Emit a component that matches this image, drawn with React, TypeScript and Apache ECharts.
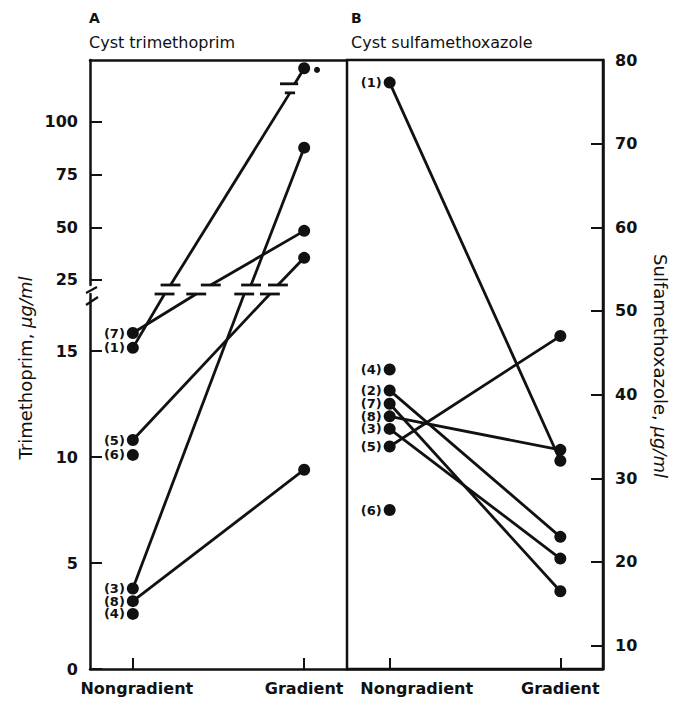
import React, { useEffect, useRef } from 'react';
import * as echarts from 'echarts';

// ---------- data ----------
const categories = ['Nongradient', 'Gradient'];

// Panel A: cyst trimethoprim (µg/ml)
const tmpPatients = ['(7)', '(1)', '(5)', '(6)', '(3)', '(8)', '(4)'];
const tmpNongradient = [15.85, 15.15, 10.8, 10.1, 3.8, 3.2, 2.6];
const tmpGradient: (number | null)[] = [48.3, 125.5, 35.5, null, 87.8, 9.4, null];
// x (category units) where each line meets the axis break
const tmpBreakLowerX: (number | null)[] = [0.37, 0.185, 0.8, null, 0.65, null, null];
const tmpBreakUpperX: (number | null)[] = [0.455, 0.22, 0.847, null, 0.69, null, null];
// patient (1) is off scale at Gradient: its line is broken again near the top
const offScaleIndex = 1;
const offScaleBreakX = [0.917, 0.945];
const offScaleBreakY = [113.8, 118.1];
const offScaleMarker = [1.075, 124.7];

// Panel B: cyst sulfamethoxazole (µg/ml)
const smxPatients = ['(1)', '(4)', '(2)', '(7)', '(8)', '(3)', '(5)', '(6)'];
const smxNongradient = [77.3, 43.0, 40.5, 38.9, 37.4, 35.9, 33.8, 26.2];
const smxGradient: (number | null)[] = [32.1, null, 23.0, 16.5, 33.4, 20.4, 47.0, null];

// tick labels
const tmpLowerTicks = [0, 5, 10, 15];
const tmpUpperTicks = [25, 50, 75, 100];
const smxTicks = [10, 20, 30, 40, 50, 60, 70, 80];

// axis ranges
const LOWER_MIN = 0, LOWER_MAX = 17.69;
const UPPER_MIN = 22.6, UPPER_MAX = 129.4;
const SMX_MIN = 7.2, SMX_MAX = 80;

// ---------- styling ----------
const INK = '#111111';
const FONT = 'DejaVu Sans';
const LW = 2.8;
const MARK_HALF = 0.058;

function lineS(idx: number, data: number[][]) {
  return {
    type: 'line', xAxisIndex: idx, yAxisIndex: idx, data,
    symbol: 'none', clip: false, silent: true, z: 2,
    lineStyle: { color: INK, width: LW, cap: 'butt', opacity: 1 },
  };
}
function markS(idx: number, x: number, y: number, half = MARK_HALF) {
  return lineS(idx, [[x - half, y], [x + half, y]]);
}
function scatterS(idx: number, data: any[], withLabel: boolean, size = 12) {
  return {
    type: 'scatter', xAxisIndex: idx, yAxisIndex: idx, data,
    symbol: 'circle', symbolSize: size, clip: false, silent: true, z: 3,
    itemStyle: { color: INK, opacity: 1 },
    label: withLabel ? {
      show: true, position: 'left', distance: 2, formatter: '{b}',
      color: INK, opacity: 1, fontFamily: FONT, fontWeight: 'bold', fontSize: 13,
    } : { show: false },
  };
}

function xAxisBase(gridIndex: number, shiftFirst: number) {
  return {
    gridIndex, type: 'value', min: -0.25, max: 1.25, position: 'bottom',
    splitLine: { show: false },
    axisLine: { show: true, onZero: false, lineStyle: { color: INK, width: 2.5 } },
    axisTick: { show: true, inside: true, length: 11, customValues: [0, 1], lineStyle: { color: INK, width: 2 } },
    axisLabel: {
      show: true, customValues: [0, 1], margin: 11,
      formatter: (v: number) => (v === 0 ? '{a|' + categories[0] + '}' : '{b|' + categories[1] + '}'),
      color: INK, fontFamily: FONT, fontWeight: 'bold', fontSize: 16,
      rich: {
        a: { color: INK, fontFamily: FONT, fontWeight: 'bold', fontSize: 16, padding: [0, 0, 0, shiftFirst] },
        b: { color: INK, fontFamily: FONT, fontWeight: 'bold', fontSize: 16 },
      },
    },
  };
}
function yAxisBase(gridIndex: number, min: number, max: number, ticks: number[], position = 'left') {
  return {
    gridIndex, type: 'value', min, max, position,
    splitLine: { show: false },
    axisLine: { show: true, onZero: false, lineStyle: { color: INK, width: 2.5 } },
    axisTick: { show: true, inside: true, length: 12, customValues: ticks, lineStyle: { color: INK, width: 2 } },
    axisLabel: {
      show: true, customValues: ticks, margin: 12,
      color: INK, fontFamily: FONT, fontWeight: 'bold', fontSize: 16,
    },
  };
}

function buildOption() {
  const series: any[] = [];

  // Panel A lines
  tmpPatients.forEach((_, i) => {
    const ng = tmpNongradient[i];
    const g = tmpGradient[i];
    if (g == null) return;
    if (g <= LOWER_MAX) {
      series.push(lineS(0, [[0, ng], [1, g]]));
      return;
    }
    const xl = tmpBreakLowerX[i] as number;
    const xu = tmpBreakUpperX[i] as number;
    series.push(lineS(0, [[0, ng], [xl, LOWER_MAX]]));
    series.push(markS(0, xl, LOWER_MAX));
    series.push(markS(1, xu, UPPER_MIN));
    if (i === offScaleIndex) {
      series.push(lineS(1, [[xu, UPPER_MIN], [offScaleBreakX[0], offScaleBreakY[0]]]));
      series.push(markS(1, offScaleBreakX[0], offScaleBreakY[0], 0.03));
      series.push(markS(1, offScaleBreakX[0] - 0.005, offScaleBreakY[1], 0.053));
      series.push(lineS(1, [[offScaleBreakX[1], offScaleBreakY[1]], [1, g]]));
    } else {
      series.push(lineS(1, [[xu, UPPER_MIN], [1, g]]));
    }
  });
  // Panel A points
  series.push(scatterS(0, tmpPatients.map((p, i) => ({ name: p, value: [0, tmpNongradient[i]] })), true));
  series.push(scatterS(0, tmpGradient.filter((g) => g != null && g <= LOWER_MAX).map((g) => [1, g]), false));
  series.push(scatterS(1, tmpGradient.filter((g) => g != null && g > LOWER_MAX).map((g) => [1, g]), false));
  series.push(scatterS(1, [offScaleMarker], false, 6));

  // Panel B
  smxPatients.forEach((_, i) => {
    const g = smxGradient[i];
    if (g == null) return;
    series.push(lineS(2, [[0, smxNongradient[i]], [1, g]]));
  });
  series.push(scatterS(2, smxPatients.map((p, i) => ({ name: p, value: [0, smxNongradient[i]] })), true));
  series.push(scatterS(2, smxGradient.filter((g) => g != null).map((g) => [1, g]), false));

  const upperX: any = {
    gridIndex: 1, type: 'value', min: -0.25, max: 1.25, position: 'top',
    splitLine: { show: false },
    axisLine: { show: true, onZero: false, lineStyle: { color: INK, width: 2.5 } },
    axisTick: { show: false }, axisLabel: { show: false },
  };

  const txt = (x: number, y: number, text: string, size: number, weight = 'normal') => ({
    type: 'text', x, y, silent: true,
    style: { text, fill: INK, fontFamily: FONT, fontSize: size, fontWeight: weight, align: 'left', verticalAlign: 'middle' },
  });

  return {
    animation: false,
    backgroundColor: '#ffffff',
    textStyle: { fontFamily: FONT },
    grid: [
      { left: 90, top: 294, width: 257, height: 375 },
      { left: 90, top: 60, width: 257, height: 225 },
      { left: 347, top: 60, width: 256, height: 609, show: true, borderColor: INK, borderWidth: 2.5 },
    ],
    xAxis: [xAxisBase(0, 8), upperX, xAxisBase(2, 54)],
    yAxis: [
      yAxisBase(0, LOWER_MIN, LOWER_MAX, tmpLowerTicks),
      yAxisBase(1, UPPER_MIN, UPPER_MAX, tmpUpperTicks),
      yAxisBase(2, SMX_MIN, SMX_MAX, smxTicks, 'right'),
    ],
    series,
    graphic: [
      txt(89, 18, 'A', 14, 'bold'),
      txt(89, 42, 'Cyst trimethoprim', 16),
      txt(351, 18, 'B', 14, 'bold'),
      txt(351, 42, 'Cyst sulfamethoxazole', 16),
      {
        type: 'text', x: 25, y: 368, rotation: Math.PI / 2, silent: true,
        style: {
          text: 'Trimethoprim, {i|μg/ml}', fill: INK, fontFamily: FONT, fontSize: 18,
          align: 'center', verticalAlign: 'middle',
          rich: { i: { fontStyle: 'italic', fontFamily: FONT, fontSize: 18, fill: INK } },
        },
      },
      {
        type: 'text', x: 660, y: 366, rotation: -Math.PI / 2, silent: true,
        style: {
          text: 'Sulfamethoxazole, {i|μg/ml}', fill: INK, fontFamily: FONT, fontSize: 18,
          align: 'center', verticalAlign: 'middle',
          rich: { i: { fontStyle: 'italic', fontFamily: FONT, fontSize: 18, fill: INK } },
        },
      },
      // axis break slashes on the left axis
      { type: 'line', silent: true, shape: { x1: 86, y1: 293, x2: 97, y2: 287 }, style: { stroke: INK, lineWidth: 2.2 } },
      { type: 'line', silent: true, shape: { x1: 86, y1: 305, x2: 98, y2: 297 }, style: { stroke: INK, lineWidth: 2.2 } },
    ],
  };
}

export default function App() {
  const ref = useRef<HTMLDivElement>(null);
  useEffect(() => {
    document.body.style.margin = '0';
    const chart = echarts.init(ref.current as HTMLDivElement, null, { renderer: 'svg' });
    chart.setOption(buildOption() as any);
    return () => chart.dispose();
  }, []);
  return <div ref={ref} style={{ width: 683, height: 702, background: '#fff' }} />;
}
